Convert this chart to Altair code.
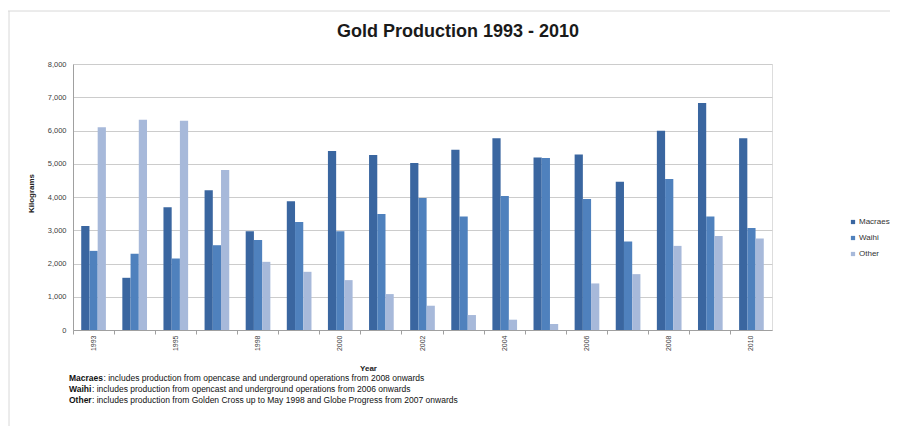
import altair as alt
import pandas as pd

years = ["1993", "1994", "1995", "1996", "1998", "1999", "2000", "2001", "2002",
         "2003", "2004", "2005", "2006", "2007", "2008", "2009", "2010"]
label_years = ["1993", "1995", "1998", "2000", "2002", "2004", "2006", "2008", "2010"]
series = ["Macraes", "Waihi", "Other"]
macraes = [3130, 1570, 3690, 4200, 2970, 3870, 5380, 5260, 5020, 5420, 5770, 5190, 5280, 4460, 5990, 6830, 5770]
waihi = [2380, 2290, 2150, 2550, 2710, 3250, 2970, 3490, 3970, 3410, 4030, 5170, 3940, 2660, 4540, 3410, 3070]
other = [6100, 6320, 6290, 4810, 2050, 1750, 1500, 1080, 730, 450, 310, 180, 1400, 1680, 2530, 2830, 2750]
colors = ["#3A66A0", "#4F81BD", "#A7B9DA"]
y_ticks = [0, 1000, 2000, 3000, 4000, 5000, 6000, 7000, 8000]
chart_title = "Gold Production 1993 - 2010"

note_names = ["Macraes", "Waihi", "Other"]
note_texts = [
    ": includes production from opencase and underground  operations from 2008 onwards",
    ":  includes production from opencast and underground  operations from 2006 onwards",
    ": includes production from Golden Cross up to May 1998 and Globe Progress from 2007 onwards",
]

rows = []
for name, vals in zip(series, [macraes, waihi, other]):
    for yr, v in zip(years, vals):
        rows.append({"Year": yr, "Series": name, "Kg": v})
df = pd.DataFrame(rows)

FONT = "Liberation Sans"

xscale = alt.Scale(paddingInner=0.4, paddingOuter=0.2)

y_enc = alt.Y("Kg:Q", scale=alt.Scale(domain=[0, 8000], nice=False),
              axis=alt.Axis(values=y_ticks, labelExpr="format(datum.value, ',')", ticks=False,
                            domainColor="#A0A0A0",
                            labelFontSize=7.5, labelColor="#404040", labelFont=FONT, labelPadding=7,
                            gridColor="#CCCCCC", gridWidth=1,
                            title="Kilograms", titleFont=FONT, titleFontSize=8, titleFontWeight="bold",
                            titleColor="#222", titleX=-42, titleY=129, titleAngle=270,
                            titleAlign="center", titleBaseline="middle"))

bars = alt.Chart(df).mark_bar().encode(
    x=alt.X("Year:N", sort=years, scale=xscale,
            axis=alt.Axis(orient="bottom", values=label_years, labelAngle=270, ticks=False, domain=False,
                          labelFontSize=7, labelColor="#404040", labelFont=FONT, labelPadding=5,
                          title="Year", titleFont=FONT, titleFontSize=8, titleFontWeight="bold",
                          titleColor="#222", titleX=295, titleY=38, titleBaseline="middle",
                          titleAlign="center", grid=False)),
    xOffset=alt.XOffset("Series:N", sort=series, scale=alt.Scale(paddingInner=0, paddingOuter=0)),
    y=y_enc,
    color=alt.Color("Series:N", sort=series,
                    scale=alt.Scale(domain=series, range=colors),
                    legend=alt.Legend(title=None, orient="none", legendX=776, legendY=154,
                                      symbolType="square", symbolSize=18, symbolStrokeWidth=0,
                                      labelFont=FONT, labelFontSize=8, labelColor="#333",
                                      labelOffset=2, rowPadding=8)),
)

ticks_layer = alt.Chart(df).mark_bar(opacity=0).encode(
    x=alt.X("Year:N", sort=years, scale=xscale,
            axis=alt.Axis(orient="bottom", labels=False, ticks=True, tickSize=4, tickColor="#A0A0A0",
                          domain=True, domainColor="#A0A0A0", bandPosition=-0.333,
                          title=None, grid=False)),
    y=y_enc,
)

layers = [bars, ticks_layer]

title_layer = alt.Chart(alt.Data(values=[{}])).mark_text(
    align="center", baseline="middle", font=FONT, fontSize=18, fontWeight="bold", color="#1A1A1A"
).encode(x=alt.value(385), y=alt.value(-32), text=alt.value(chart_title))
layers.append(title_layer)

note_y = [314, 325, 335.5]
bold_w = [34.5, 23, 23]
for name, txt, yy, bw in zip(note_names, note_texts, note_y, bold_w):
    layers.append(alt.Chart(alt.Data(values=[{}])).mark_text(
        align="left", baseline="middle", font=FONT, fontSize=8.5, fontWeight="bold", color="#111"
    ).encode(x=alt.value(-4), y=alt.value(yy), text=alt.value(name)))
    layers.append(alt.Chart(alt.Data(values=[{}])).mark_text(
        align="left", baseline="middle", font=FONT, fontSize=8.5, color="#111"
    ).encode(x=alt.value(-4 + bw), y=alt.value(yy), text=alt.value(txt)))

frame_top = alt.Chart(alt.Data(values=[{}])).mark_rule(color="#D8D8D8", strokeWidth=1).encode(
    x=alt.value(-65), x2=alt.value(826), y=alt.value(-53))
frame_left = alt.Chart(alt.Data(values=[{}])).mark_rule(color="#D8D8D8", strokeWidth=1).encode(
    x=alt.value(-64), y=alt.value(-53), y2=alt.value(362))
layers += [frame_top, frame_left]

chart = alt.layer(*layers).resolve_axis(x="independent").properties(
    width=699, height=266,
    autosize=alt.AutoSizeParams(type="none"),
    padding={"left": 65, "top": 56, "right": 118, "bottom": 96},
).configure_view(stroke=None).configure(background="white")

chart.save("out.html", embed_options={"renderer": "svg", "actions": False})
